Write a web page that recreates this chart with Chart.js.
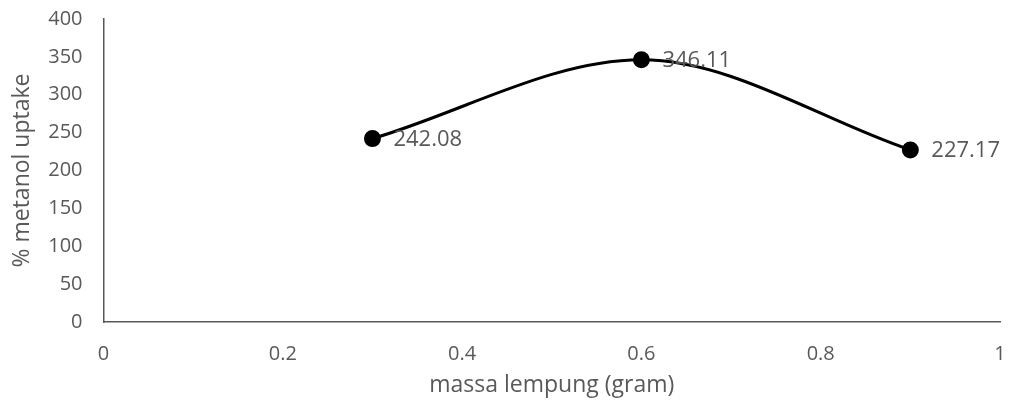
<!DOCTYPE html>
<html>
<head>
<meta charset="utf-8">
<script src="https://cdn.jsdelivr.net/npm/chart.js@4.4.1/dist/chart.umd.min.js"></script>
<style>
  html, body { margin: 0; padding: 0; background: #ffffff; }
  #wrap { width: 1010px; height: 403px; position: relative; }
</style>
</head>
<body>
<div id="wrap"><canvas id="c" width="1010" height="403"></canvas></div>
<script>
// Data
const massaLempung = [0.3, 0.6, 0.9];
const metanolUptake = [242.08, 346.11, 227.17];
const xTickValues = [0, 0.2, 0.4, 0.6, 0.8, 1];
const yTickValues = [0, 50, 100, 150, 200, 250, 300, 350, 400];
const xTitle = 'massa lempung (gram)';
const yTitle = '% metanol uptake';

const FONT = "'Open Sans', sans-serif";
const GREY = '#595959';

const points = massaLempung.map((x, i) => ({ x: x, y: metanolUptake[i] }));

const labelPlugin = {
  id: 'valueLabels',
  afterDatasetsDraw(chart) {
    const ctx = chart.ctx;
    const meta = chart.getDatasetMeta(0);
    ctx.save();
    ctx.font = "22px " + FONT;
    ctx.fillStyle = GREY;
    ctx.textAlign = 'left';
    ctx.textBaseline = 'middle';
    meta.data.forEach((el, i) => {
      ctx.fillText(metanolUptake[i].toFixed(2), el.x + 21, el.y + 1);
    });
    ctx.restore();
  }
};

new Chart(document.getElementById('c'), {
  type: 'scatter',
  data: {
    datasets: [{
      data: points,
      showLine: true,
      borderColor: '#000000',
      backgroundColor: '#000000',
      borderWidth: 3,
      pointRadius: 7,
      pointBackgroundColor: '#000000',
      pointBorderColor: '#000000',
      cubicInterpolationMode: 'monotone'
    }]
  },
  options: {
    responsive: false,
    animation: false,
    layout: { padding: { top: 19, right: 9, left: 0, bottom: 0 } },
    plugins: { legend: { display: false }, tooltip: { enabled: false } },
    scales: {
      x: {
        type: 'linear',
        min: 0, max: 1,
        afterBuildTicks: (s) => { s.ticks = xTickValues.map(v => ({ value: v })); },
        afterFit: (s) => { s.height = 81; s.paddingLeft = 0; s.paddingRight = 0; },
        grid: { display: false, drawTicks: false },
        border: { display: true, color: GREY, width: 1.5 },
        ticks: { color: GREY, font: { family: FONT, size: 20 }, padding: 20, maxRotation: 0,
                 callback: (v) => String(v) },
        title: { display: true, text: xTitle, color: GREY, font: { family: FONT, size: 23 },
                 padding: { top: 0, bottom: 4 } }
      },
      y: {
        type: 'linear',
        min: 0, max: 400,
        afterBuildTicks: (s) => { s.ticks = yTickValues.map(v => ({ value: v })); },
        afterFit: (s) => { s.width = 103.5; s.paddingTop = 0; s.paddingBottom = 0; },
        grid: { display: false, drawTicks: false },
        border: { display: true, color: GREY, width: 1.5 },
        ticks: { color: GREY, font: { family: FONT, size: 20 }, padding: 21 },
        title: { display: true, text: yTitle, color: GREY, font: { family: FONT, size: 23 },
                 padding: { top: 9, bottom: 0 } }
      }
    }
  },
  plugins: [labelPlugin]
});
</script>
</body>
</html>
